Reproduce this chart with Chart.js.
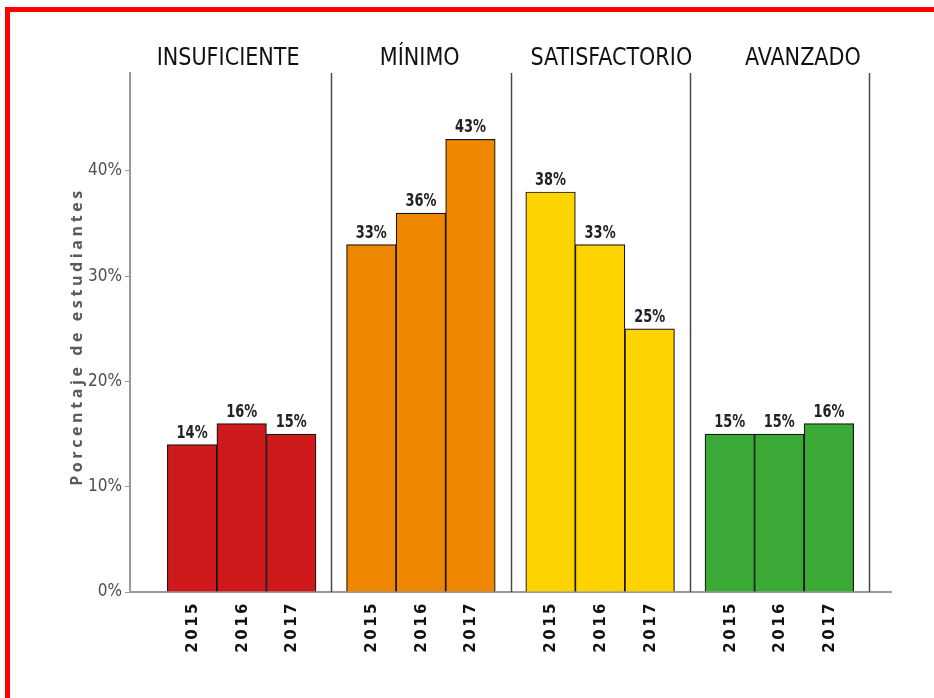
<!DOCTYPE html>
<html><head><meta charset="utf-8">
<script src="https://cdn.jsdelivr.net/npm/chart.js@4.4.1/dist/chart.umd.min.js"></script>
<style>
html,body{margin:0;padding:0;background:#fff;overflow:hidden}
#wrap{position:relative;width:934px;height:698px}
#frame{position:absolute;left:5px;top:7px;right:0;bottom:0;border-top:5px solid #ff0000;border-left:5px solid #ff0000;pointer-events:none}
canvas{position:absolute;left:0;top:0}
</style></head>
<body><div id="wrap"><canvas id="c" width="934" height="698"></canvas><div id="frame"></div></div>
<script>
// ---- data ----
const categories = ['INSUFICIENTE', 'MÍNIMO', 'SATISFACTORIO', 'AVANZADO'];
const years = ['2015', '2016', '2017'];
const insuficiente = [14, 16, 15];
const minimo = [33, 36, 43];
const satisfactorio = [38, 33, 25];
const avanzado = [15, 15, 16];
const yTickValues = [0, 10, 20, 30, 40];
const yTitle = 'Porcentaje de estudiantes';

// ---- styling ----
const NARROW = '"Liberation Sans Narrow","DejaVu Sans Condensed","Arial Narrow",sans-serif';
const groupColors = ['#cf1a1c', '#f08700', '#ffd400', '#3aa935'];
const levels = [insuficiente, minimo, satisfactorio, avanzado];
const barStep = 0.2765;      // bar width in panel units
const titleStep = 1.069;     // facet title spacing in panel units
const titleStart = 0.4245;

const datasets = levels.map((vals, g) => ({
  label: categories[g],
  data: vals.map((v, k) => ({ x: g + 0.5 + (k - 1) * barStep, y: v })),
  backgroundColor: groupColors[g],
  borderColor: '#151515',
  borderWidth: 1.2,
  grouped: false,
  barPercentage: 1,
  categoryPercentage: 1
}));

const decor = {
  id: 'decor',
  afterDraw(chart) {
    const ctx = chart.ctx, xs = chart.scales.x, ca = chart.chartArea;
    ctx.save();
    // panel separators
    ctx.strokeStyle = '#4a4a4a';
    ctx.lineWidth = 1.5;
    for (let g = 1; g <= categories.length; g++) {
      const px = Math.round(xs.getPixelForValue(g)) + 0.5;
      ctx.beginPath(); ctx.moveTo(px, ca.top); ctx.lineTo(px, ca.bottom); ctx.stroke();
    }
    // facet titles
    ctx.fillStyle = '#111';
    ctx.font = '24px ' + NARROW;
    ctx.textAlign = 'center';
    ctx.textBaseline = 'alphabetic';
    categories.forEach((c, g) => {
      const tx = xs.getPixelForValue(titleStart + g * titleStep);
      ctx.save();
      ctx.translate(tx, ca.top - 8);
      ctx.scale(0.96, 1);
      ctx.fillText(c, 0, 0);
      ctx.restore();
    });
    // data labels (condensed)
    ctx.font = 'bold 18px ' + NARROW;
    ctx.fillStyle = '#222';
    chart.data.datasets.forEach((ds, i) => {
      chart.getDatasetMeta(i).data.forEach((bar, k) => {
        ctx.save();
        ctx.translate(bar.x, bar.y - 7);
        ctx.scale(0.8, 1);
        ctx.fillText(levels[i][k] + '%', 0, 0);
        ctx.restore();
      });
    });
    // year labels
    ctx.font = 'bold 15px "DejaVu Sans"';
    ctx.fillStyle = '#111';
    ctx.letterSpacing = '2.5px';
    ctx.textAlign = 'right';
    ctx.textBaseline = 'middle';
    chart.data.datasets.forEach((ds, i) => {
      chart.getDatasetMeta(i).data.forEach((bar, k) => {
        ctx.save();
        ctx.translate(bar.x + 1, ca.bottom + 9);
        ctx.rotate(-Math.PI / 2);
        ctx.fillText(years[k], 0, 0);
        ctx.restore();
      });
    });
    // y title
    ctx.font = 'bold 16px "Open Sans"';
    ctx.fillStyle = '#5a5a5a';
    ctx.letterSpacing = '3.6px';
    ctx.textAlign = 'center';
    ctx.translate(77, (ca.top + ca.bottom) / 2 + 4);
    ctx.rotate(-Math.PI / 2);
    ctx.fillText(yTitle, 0, 0);
    ctx.restore();
  }
};

new Chart(document.getElementById('c'), {
  type: 'bar',
  data: { datasets },
  options: {
    responsive: false,
    animation: false,
    devicePixelRatio: 1,
    layout: { padding: { top: 73, right: 43, left: 0, bottom: 0 } },
    plugins: { legend: { display: false }, tooltip: { enabled: false } },
    scales: {
      x: {
        type: 'linear', min: -0.123, max: 4.123, offset: false,
        grid: { display: false, drawTicks: false },
        border: { display: true, color: '#9a9a9a', width: 2 },
        ticks: { display: false },
        afterFit(s) { s.height = 106; }
      },
      y: {
        min: 0, max: 49.3,
        afterBuildTicks(s) { s.ticks = yTickValues.map(v => ({ value: v })); },
        ticks: {
          callback: v => v + '%',
          font: { family: NARROW, size: 17 },
          color: '#4d4d4d',
          padding: 3
        },
        grid: { drawOnChartArea: false, tickLength: 5, color: '#9a9a9a', tickColor: '#9a9a9a' },
        border: { color: '#9a9a9a', width: 2 },
        afterFit(s) { s.width = 130; }
      }
    }
  },
  plugins: [decor]
});
</script>
</body></html>
